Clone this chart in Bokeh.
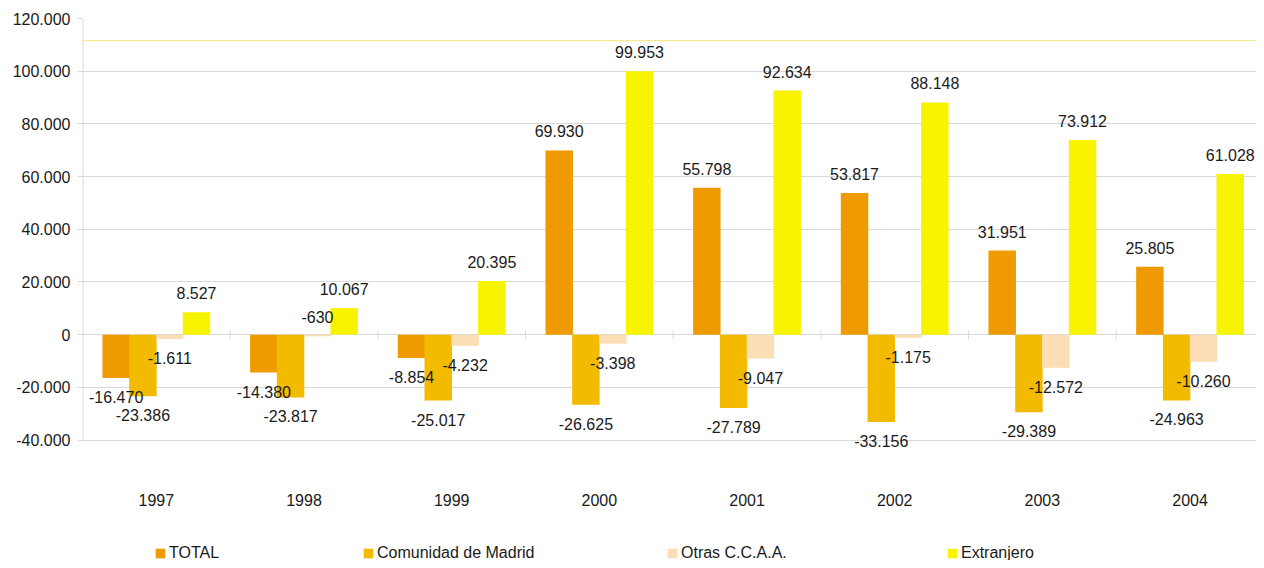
import math
from bokeh.plotting import figure
from bokeh.models import ColumnDataSource, Range1d, FixedTicker, Span, Legend, LegendItem
from bokeh.core.properties import value
from bokeh.embed import file_html
from bokeh.resources import INLINE

# ---- data ----
years = ["1997", "1998", "1999", "2000", "2001", "2002", "2003", "2004"]
total = [-16470, -14380, -8854, 69930, 55798, 53817, 31951, 25805]
madrid = [-23386, -23817, -25017, -26625, -27789, -33156, -29389, -24963]
otras = [-1611, -630, -4232, -3398, -9047, -1175, -12572, -10260]
extranjero = [8527, 10067, 20395, 99953, 92634, 88148, 73912, 61028]
series_names = ["TOTAL", "Comunidad de Madrid", "Otras C.C.A.A.", "Extranjero"]
y_ticks = [-40000, -20000, 0, 20000, 40000, 60000, 80000, 100000, 120000]
y_tick_labels = ["-40.000", "-20.000", "0", "20.000", "40.000", "60.000", "80.000", "100.000", "120.000"]

# ---- styling ----
colors = ["#EE9A00", "#F2BB00", "#FCDEB6", "#F8F400"]
FONT = "Liberation Sans"
GRID = "#d9d9d9"
TXT = "#1a1a1a"
offsets = [-0.272, -0.091, 0.091, 0.272]
bar_w = 0.186

def fmt(v):
    return f"{v:,}".replace(",", ".")

y_floor = y_ticks[0]
y_top = y_ticks[-1]

# the frame runs down to the bottom of the figure so the legend can sit in it
p = figure(width=1256, height=560, output_backend="svg", toolbar_location=None,
           x_range=Range1d(0, 7.95), y_range=Range1d(-85700, y_top),
           min_border_left=82, min_border_right=0, min_border_top=18, min_border_bottom=0)
p.outline_line_color = None
p.background_fill_color = "white"
p.xaxis.visible = False

# y axis
p.yaxis.ticker = FixedTicker(ticks=y_ticks)
p.yaxis.major_label_overrides = {t: l for t, l in zip(y_ticks, y_tick_labels)}
p.yaxis.minor_tick_line_color = None
p.yaxis.major_tick_out = 5
p.yaxis.major_tick_in = 0
p.yaxis.major_tick_line_color = GRID
p.yaxis.axis_line_color = None
p.yaxis.major_label_standoff = 7
p.yaxis.major_label_text_font = FONT
p.yaxis.major_label_text_font_size = "16px"
p.yaxis.major_label_text_color = TXT

# visible y axis line only between the floor and the top tick
p.segment(x0=[0], y0=[y_floor], x1=[0], y1=[y_top], line_color=GRID, line_width=2)

p.xgrid.grid_line_color = None
p.ygrid.ticker = FixedTicker(ticks=y_ticks)
p.ygrid.grid_line_color = GRID
p.ygrid.grid_line_width = 1

# stray yellow line near the top
p.add_layout(Span(location=111600, dimension="width", line_color="#F3E77A", line_width=1))

centers = [k + 0.5 for k in range(len(years))]

# tick marks on the zero line between categories
bounds = list(range(1, len(years)))
p.scatter(x=bounds, y=[0] * len(bounds), marker="dash", size=9, angle=math.pi / 2,
          line_color=GRID, line_width=1)

# category labels, below the floor of the value axis
p.text(x=centers, y=[y_floor] * len(centers), text=years, y_offset=60,
       text_align="center", text_baseline="middle",
       text_font=value(FONT), text_font_size="16px", text_color=TXT)

all_series = [total, madrid, otras, extranjero]
renderers = []
sources = []
for vals, off, col in zip(all_series, offsets, colors):
    xs = [c + off for c in centers]
    src = ColumnDataSource(dict(
        x=xs, top=vals,
        lbl=[fmt(v) for v in vals],
        yoff=[-19 if (v > 0 or abs(v) < 1000) else 19 for v in vals],
    ))
    sources.append(src)
    r = p.vbar(x="x", top="top", bottom=0, width=bar_w, source=src,
               fill_color=col, line_color=None)
    renderers.append(r)

# data labels drawn above all bars
for src in sources:
    p.text(x="x", y="top", text="lbl", y_offset="yoff", source=src,
           text_align="center", text_baseline="middle",
           text_font=value(FONT), text_font_size="16px", text_color=TXT)

# legend: four single-item legends at the bottom of the frame
leg_x = [72, 280, 584, 864]
for name, r, lx in zip(series_names, renderers, leg_x):
    leg = Legend(items=[LegendItem(label=name, renderers=[r])],
                 location=(lx, -2), orientation="horizontal",
                 padding=0, margin=0, spacing=0,
                 border_line_color=None, background_fill_alpha=0,
                 glyph_width=12, glyph_height=12, label_standoff=3,
                 label_height=16, label_text_font=FONT,
                 label_text_font_size="16px", label_text_color=TXT)
    p.add_layout(leg)

open("out.html", "w").write(file_html(p, INLINE))
